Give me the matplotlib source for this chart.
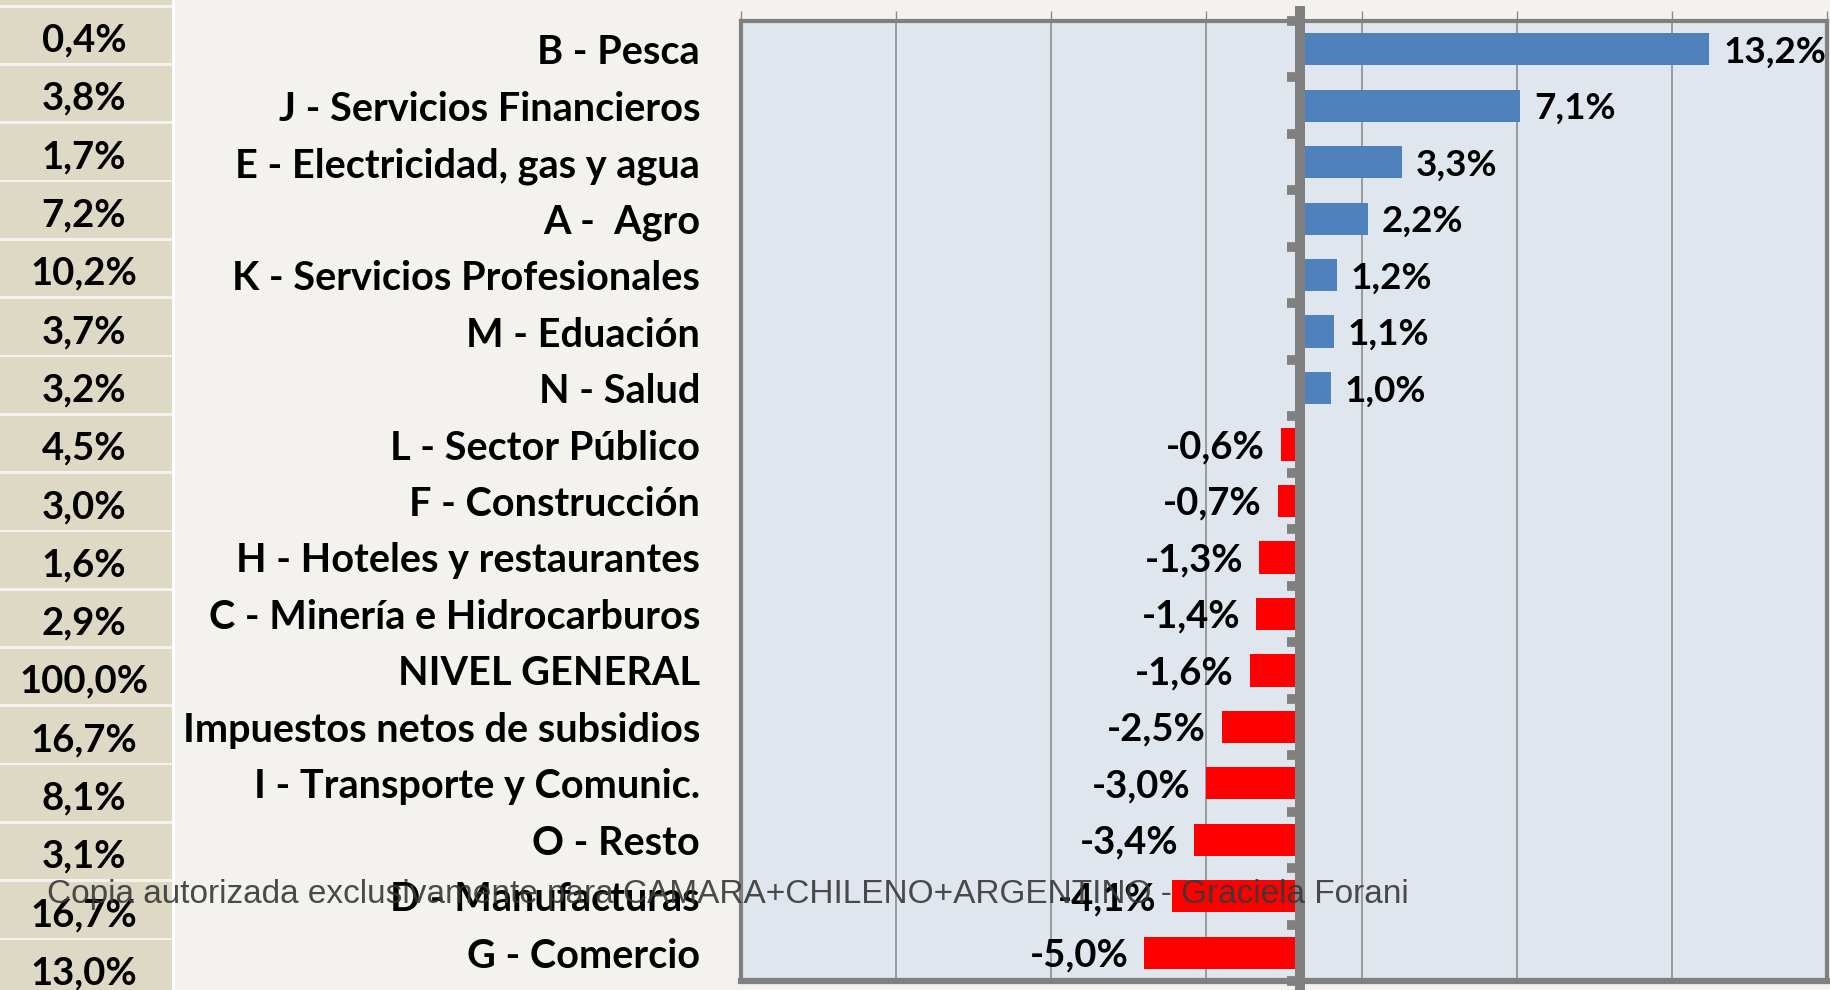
import matplotlib
matplotlib.use("Agg")
import matplotlib.pyplot as plt
import numpy as np

categories = [
    "B - Pesca", "J - Servicios Financieros", "E - Electricidad, gas y agua",
    "A -  Agro", "K - Servicios Profesionales", "M - Eduación", "N - Salud",
    "L - Sector Público", "F - Construcción", "H - Hoteles y restaurantes",
    "C - Minería e Hidrocarburos", "NIVEL GENERAL", "Impuestos netos de subsidios",
    "I - Transporte y Comunic.", "O - Resto", "D - Manufacturas", "G - Comercio",
]
values = [13.2, 7.1, 3.3, 2.2, 1.2, 1.1, 1.0, -0.6, -0.7, -1.3, -1.4, -1.6,
          -2.5, -3.0, -3.4, -4.1, -5.0]
weights = ["0,4%", "3,8%", "1,7%", "7,2%", "10,2%", "3,7%", "3,2%", "4,5%",
           "3,0%", "1,6%", "2,9%", "100,0%", "16,7%", "8,1%", "3,1%", "16,7%", "13,0%"]
x_min, x_max, x_step = -18, 17, 5
watermark = "Copia autorizada exclusivamente para CAMARA+CHILENO+ARGENTINO - Graciela Forani"

W, H, DPI = 1831, 990, 100
BG = "#F3F2EE"
fig = plt.figure(figsize=(W / DPI, H / DPI), dpi=DPI, facecolor=BG)

FONT = "Lato"

# ---- left weights table (figure coordinates in pixels) ----
tab = fig.add_axes([0, 0, 1, 1], facecolor="none")
tab.set_xlim(0, W)
tab.set_ylim(H, 0)
tab.axis("off")
pitch = 58.3
y0 = 7.5
tab.add_patch(plt.Rectangle((0, -60), 172, 60 + y0 - 2.5, color="#DDD9C4", lw=0))
for i, w in enumerate(weights):
    top = y0 + i * pitch
    tab.add_patch(plt.Rectangle((0, top), 172, pitch - 2.7, color="#DDD9C4", lw=0))
    tab.text(84, top + pitch / 2 + 4, w, ha="center", va="center",
             fontsize=27.5, fontweight="bold", family=FONT, color="black")
tab.add_patch(plt.Rectangle((172, 0), 3, H, color="white", lw=0))

# ---- bar chart ----
L, R, T, B = 741, 1827, 21, 981
ax = fig.add_axes([L / W, 1 - B / H, (R - L) / W, (B - T) / H], facecolor="#E0E6EE")
n = len(categories)
y = np.arange(n)
colors = ["#4F81BD" if v >= 0 else "#FF0000" for v in values]
ax.barh(y, values, height=0.57, color=colors, zorder=3)
ax.set_xlim(x_min, x_max)
ax.set_ylim(n - 0.5, -0.5)

grid = np.arange(x_min, x_max + 0.001, x_step)
ax.set_xticks(grid)
ax.xaxis.set_ticks_position("top")
ax.tick_params(axis="x", length=7, width=1, color="#8C8C8C", labeltop=False, labelbottom=False)
for g in grid[1:-1]:
    ax.axvline(g, color="#8C8C8C", lw=1.2, zorder=1)

ax.set_yticks(y)
ax.set_yticklabels(categories, fontsize=28.5, fontweight="bold", family=FONT)
ax.tick_params(axis="y", length=0, pad=29.5)

for s in ax.spines.values():
    s.set_color("#808080")
    s.set_linewidth(3)
ax.spines["bottom"].set_linewidth(4.5)

# zero axis with category tick marks
ax.axvline(0, color="#808080", lw=7.2, zorder=5, ymin=-0.01, ymax=1.01, clip_on=False)
px_per_unit = (R - L) / (x_max - x_min)
tick_len = 13 / px_per_unit
for b in np.arange(-0.5, n, 1.0):
    ax.plot([-tick_len, 0], [b, b], color="#808080", lw=7, solid_capstyle="butt",
            zorder=5, clip_on=False)

gap = 16 / px_per_unit
for yi, v in zip(y, values):
    lab = f"{v:.1f}%".replace(".", ",")
    if v >= 0:
        ax.text(v + 14 / px_per_unit, yi + 0.05, lab, ha="left", va="center", fontsize=26.5,
                fontweight="bold", family=FONT, zorder=6, clip_on=False)
    else:
        ax.text(v - gap, yi + 0.05, lab, ha="right", va="center", fontsize=27.5,
                fontweight="bold", family=FONT, zorder=6)

fig.text(47 / W, 1 - 894 / H, watermark, ha="left", va="center", fontsize=24,
         family=["Liberation Sans Narrow", "Liberation Sans"], color="#383838",
         alpha=0.9, zorder=20)

fig.savefig("out.png", dpi=DPI, facecolor=BG)
